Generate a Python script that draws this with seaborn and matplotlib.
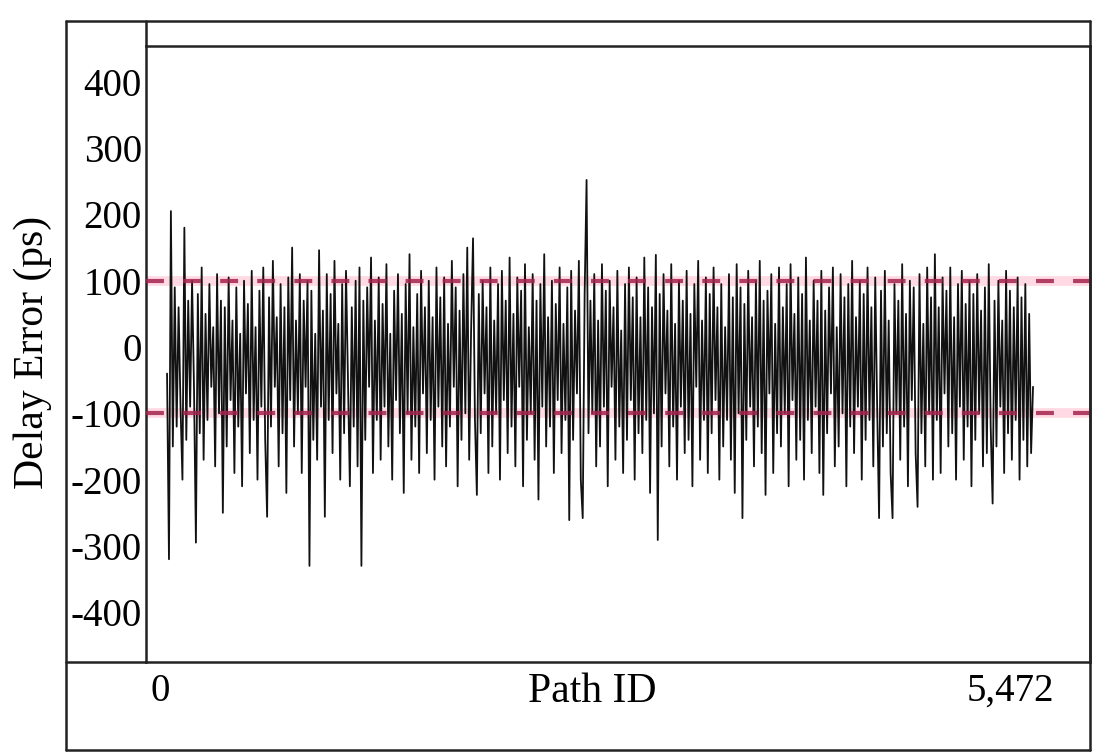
import numpy as np
import pandas as pd
import matplotlib
matplotlib.use("Agg")
import matplotlib.pyplot as plt
import matplotlib.transforms as mtransforms
from matplotlib.lines import Line2D
import seaborn as sns

delay_error = [
    -40, -320, 205, -150, 90, -120, 60, -90, -200, 180, -140, 70, -90, 100, -60, -295, 80, -130, 120, -170,
    50, -110, 95, -60, 30, -180, 110, -100, 70, -250, 60, -150, 105, -80, 40, -190, 90, -120, 20, -210,
    100, -70, 65, -160, 115, -110, 30, -200, 85, -90, 120, -140, -256, 75, -120, 130, -60, 45, -180, 95,
    -130, 60, -220, 105, -80, 150, -150, 40, -100, 110, -190, 70, -60, 100, -330, 85, -140, 20, -170, 146,
    -90, 55, -256, 110, -110, 80, -160, 130, -70, 35, -200, 95, -130, 115, -50, -210, 60, -120, 100, -180,
    120, -330, 70, -140, 90, -60, 135, -190, 40, -110, 105, -170, 65, -90, 125, -150, 20, -200, 85, -80,
    110, -130, 50, -220, 95, -100, 140, -170, 30, -120, 80, -190, 115, -70, 60, -160, 100, -110, 45, -200,
    120, -90, 75, -150, 105, -180, 35, -120, 130, -60, 90, -210, 55, -140, 110, -100, 150, -170, 25, 164,
    -110, -223, 80, -130, 100, -70, 60, -190, 120, -150, 40, -100, 95, -200, 115, -80, 70, -160, 135, -120,
    50, -180, 105, -60, 85, -210, 125, -140, 30, -100, 110, -170, 70, -230, 95, -90, 140, -150, 45, -120,
    100, -190, 65, -80, 120, -160, 35, -110, 90, -261, 115, -140, 55, -70, 130, -200, -258, 80, 252, -130,
    70, -100, 110, -180, 40, -150, 125, -90, 85, -210, 100, -60, 60, -170, 115, -120, 25, -190, 95, -140,
    120, -80, 75, -200, 105, -130, 45, -160, 135, -110, 90, -220, 60, -100, 139, -291, 80, -150, 110, -70,
    55, -180, 125, -120, 35, -200, 100, -90, 70, -160, 115, -140, 50, -210, 95, -60, 130, -170, 40, -110,
    105, -190, 80, -130, 120, -80, 60, -200, 95, -150, 30, -110, 110, -170, 75, -220, 125, -100, 90, -258,
    65, -140, 115, -90, 45, -180, 100, -120, 130, -160, 70, -223, 85, -70, 110, -190, 35, -130, 120, -150,
    60, -100, 95, -210, 125, -80, 50, -170, 105, -140, 80, -200, 135, -110, 40, -160, 100, -90, 70, -190,
    115, -223, 55, -130, 90, -70, 120, -180, 30, -150, 110, -100, 75, -210, 95, -120, 130, -160, 45, -90,
    100, -200, 80, -140, 120, -110, 60, -180, 105, -90, -258, 85, -150, 115, -130, 40, -190, -258, 95, -100,
    70, -170, 125, -120, 50, -210, 100, -80, 90, -160, -241, 110, -130, 35, -180, 120, -100, 75, -200, 140,
    -110, 60, -190, 105, -70, 85, -150, 120, -130, 45, -200, 95, -90, 115, -170, 65, -120, 100, -210, 80,
    -140, 110, -100, 55, -180, 90, -160, 125, -120, -236, 70, -150, 100, -90, 40, -190, 115, -130, 85, -170,
    60, -110, 105, -200, 75, -140, 95, -180, 50, -160, -60,
]
total_paths = 5472
threshold = 100
y_ticks = [-400, -300, -200, -100, 0, 100, 200, 300, 400]
x_tick_values = [0, total_paths]
x_tick_labels = ["0", "5,472"]

path_id = np.linspace(0, total_paths, len(delay_error))
df = pd.DataFrame({"Path ID": path_id, "Delay Error (ps)": delay_error})

# ---- style ----
sns.set_style("white")
plt.rcParams["font.family"] = ["Liberation Serif", "DejaVu Serif"]
plt.rcParams["text.color"] = "black"
plt.rcParams["xtick.color"] = "black"
plt.rcParams["ytick.color"] = "black"
plt.rcParams["axes.labelcolor"] = "black"

W, H = 1093, 753
fig = plt.figure(figsize=(W / 100, H / 100), dpi=100)
ax = fig.add_axes([146 / W, 1 - 662 / H, (1090 - 146) / W, (662 - 46) / H])

# threshold bands (pink halo + dashed crimson line)
for yv in (threshold, -threshold):
    ax.axhline(yv, color="#ffd0dc", lw=7, alpha=0.8, zorder=1)

sns.lineplot(data=df, x="Path ID", y="Delay Error (ps)", color="#111111",
             lw=1.3, ax=ax, zorder=2, estimator=None)

for yv in (threshold, -threshold):
    ax.axhline(yv, color="#a3234f", lw=3, linestyle=(0, (4.3, 4.6)), zorder=3, alpha=0.85)

ax.set_xlim(-133, 5832)
ax.set_ylim(-475, 454)
ax.set_yticks(y_ticks)
ax.set_yticklabels([str(v) for v in y_ticks], fontsize=28)
ax.set_xticks(x_tick_values)
ax.set_xticklabels(x_tick_labels, fontsize=28)
ax.tick_params(axis="both", length=0, pad=3)
ax.tick_params(axis="x", pad=8)

# shift x tick labels to match reference positions
offs = [-7, -23]
for lab, dx in zip(ax.get_xticklabels(), offs):
    lab.set_transform(lab.get_transform() + mtransforms.ScaledTranslation(dx / 100, 0, fig.dpi_scale_trans))

ax.set_xlabel("Path ID", fontsize=30)
ax.xaxis.set_label_coords((592 - 146) / (1090 - 146), -(692 - 662) / (662 - 46), transform=ax.transAxes)
ax.xaxis.label.set_verticalalignment("center")
ax.set_ylabel("Delay Error (ps)", fontsize=30)
ax.yaxis.set_label_coords(-(146 - 52) / (1090 - 146), 1 - (352 - 46) / (662 - 46), transform=ax.transAxes)

for s in ax.spines.values():
    s.set_color("#222222")
    s.set_linewidth(1.8)

# outer table-like frame
def fl(x0, y0, x1, y1):
    fig.add_artist(Line2D([x0 / W, x1 / W], [1 - y0 / H, 1 - y1 / H],
                          color="#222222", lw=1.8, transform=fig.transFigure))

fl(66, 21, 1090, 21)
fl(66, 21, 66, 750)
fl(66, 750, 1090, 750)
fl(1090, 21, 1090, 750)
fl(146, 21, 146, 46)
fl(66, 662, 146, 662)

fig.savefig("out.png", dpi=100, facecolor="white")
